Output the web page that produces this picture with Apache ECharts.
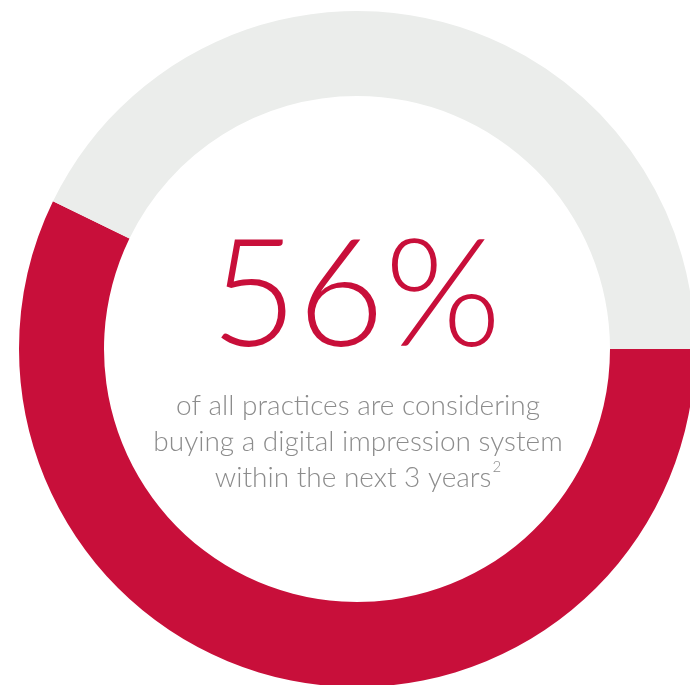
<!DOCTYPE html>
<html>
<head>
<meta charset="utf-8">
<script src="https://cdn.jsdelivr.net/npm/echarts@6/dist/echarts.min.js"></script>
<style>
html,body{margin:0;padding:0;background:#fff;}
#chart{width:690px;height:685px;}
</style>
</head>
<body>
<div id="chart"></div>
<script>
const categories = ['Considering buying', 'Not considering'];
const shares = [57.2, 42.8];
const sliceColors = ['#C80F3A', '#EBEDEB'];
const headline = '56%';
const captionLines = ['of all practices are considering', 'buying a digital impression system', 'within the next 3 years'];
const footnoteMark = '2';

const chart = echarts.init(document.getElementById('chart'), null, {renderer: 'canvas'});
const option = {
  backgroundColor: '#ffffff',
  animation: false,
  series: [{
    type: 'pie',
    center: [357, 349],
    radius: [253, 338],
    startAngle: 0,
    clockwise: true,
    silent: true,
    label: {show: false},
    labelLine: {show: false},
    itemStyle: {borderWidth: 0},
    data: categories.map((c, i) => ({name: c, value: shares[i], itemStyle: {color: sliceColors[i]}}))
  }],
  graphic: [
    {
      type: 'text',
      x: 356, y: 298,
      style: {
        text: headline,
        font: '300 150px Lato',
        fill: '#C80F3A',
        align: 'center',
        verticalAlign: 'middle'
      }
    },
    {
      type: 'text',
      x: 358, y: 388,
      style: {
        text: captionLines[0] + '\n' + captionLines[1] + '\n{t|' + captionLines[2] + '}{s|' + footnoteMark + '}',
        font: '300 28px Lato',
        fill: '#8C8C8C',
        align: 'center',
        verticalAlign: 'top',
        lineHeight: 36,
        rich: {
          t: {font: '300 28px Lato', fill: '#8C8C8C', lineHeight: 36},
          s: {font: '300 15px Lato', fill: '#8C8C8C', lineHeight: 36, verticalAlign: 'top', padding: [0, 0, 12, 1]}
        }
      }
    }
  ]
};
chart.setOption(option);
</script>
</body>
</html>
